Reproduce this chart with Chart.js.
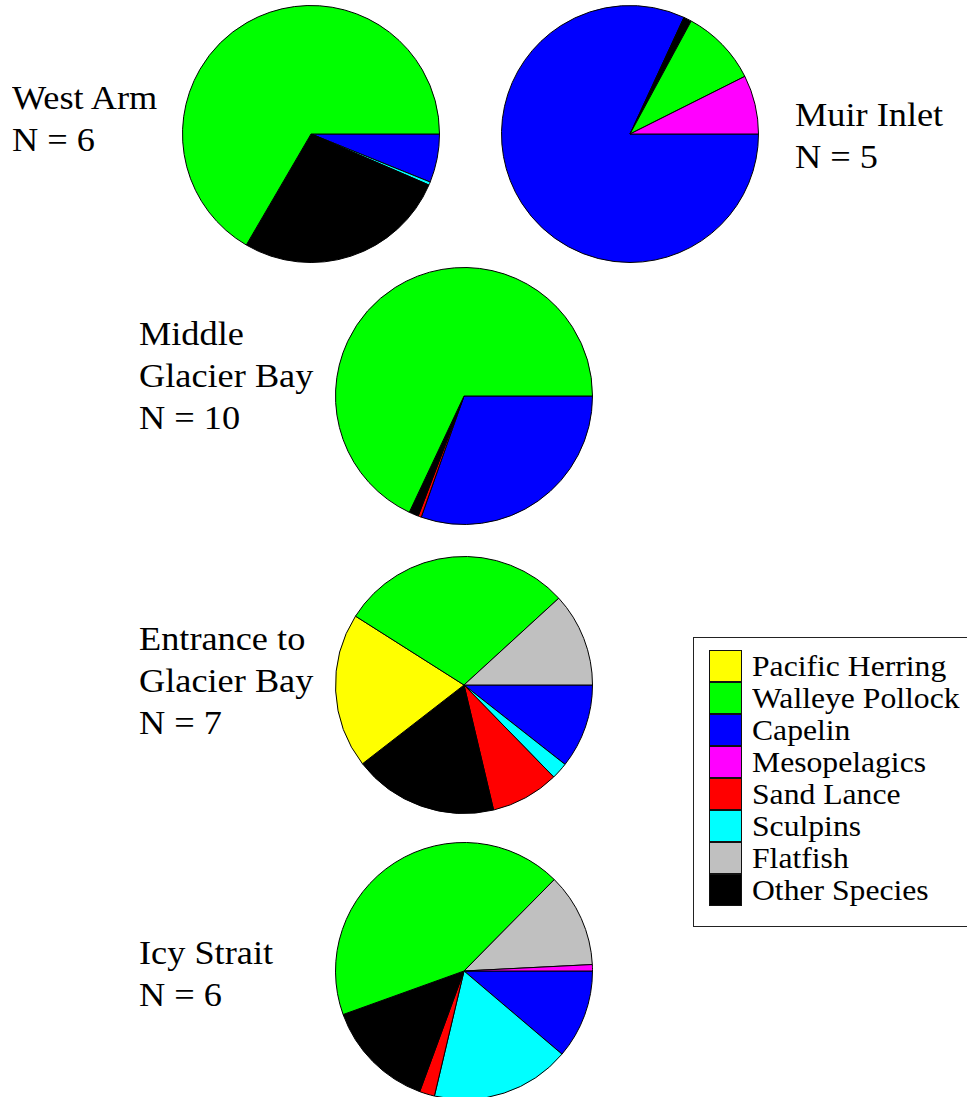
<!DOCTYPE html>
<html lang="en">

<head>
    <meta charset="UTF-8">
    <title>Diet composition by area</title>
    <script src="https://cdn.jsdelivr.net/npm/chart.js"></script>
    <style>
        body {
            margin: 0;
            width: 967px;
            height: 1097px;
            overflow: hidden;
            background: #fff;
            position: relative;
            font-family: "Liberation Serif", "Times New Roman", serif;
            color: #000;
        }

        .pie {
            position: absolute;
        }

        .site {
            position: absolute;
            font-size: 33px;
            line-height: 42px;
            white-space: nowrap;
            transform: scaleX(1.1);
            transform-origin: left top;
        }

        #legend {
            position: absolute;
            left: 693px;
            top: 637px;
            width: 280px;
            height: 290px;
            border: 1px solid #222;
            box-sizing: border-box;
            padding: 12px 0 0 15px;
        }

        .item {
            height: 32px;
            display: flex;
            align-items: center;
            font-size: 30px;
        }

        .item span {
            display: inline-block;
            transform: scaleX(1.055);
            transform-origin: left center;
        }

        .swatch {
            width: 31px;
            height: 30px;
            border: 1px solid #111;
            margin-right: 10px;
        }
    </style>
</head>

<body>

    <div id="legend"></div>

    <script type='text/javascript'>
        // species, in legend order
        var species = ["Pacific Herring", "Walleye Pollock", "Capelin", "Mesopelagics",
            "Sand Lance", "Sculpins", "Flatfish", "Other Species"];
        var colors = ["#ffff00", "#00ff00", "#0000ff", "#ff00ff",
            "#ff0000", "#00ffff", "#c0c0c0", "#000000"];

        // percent of diet per area (same order as species)
        var westArm = [0, 66.6, 6.1, 0, 0, 0.4, 0, 26.9];
        var muirInlet = [0, 9.7, 81.9, 7.4, 0, 0, 0, 1.0];
        var middleBay = [0, 68.0, 30.4, 0, 0.4, 0, 0, 1.2];
        var entranceBay = [19.5, 29.2, 10.6, 0, 8.6, 2.1, 11.8, 18.2];
        var icyStrait = [0, 42.9, 11.2, 0.8, 1.9, 17.5, 11.8, 13.9];

        // slices are laid clockwise from 3 o'clock in this order
        var sliceOrder = [2, 5, 4, 7, 0, 1, 6, 3];

        var sites = [
            { name: ["West Arm", "N = 6"], data: westArm, cx: 311, cy: 134, lx: 12, ly: 77 },
            { name: ["Muir Inlet", "N = 5"], data: muirInlet, cx: 630, cy: 134, lx: 795, ly: 94 },
            { name: ["Middle", "Glacier Bay", "N = 10"], data: middleBay, cx: 464, cy: 396, lx: 139, ly: 313 },
            { name: ["Entrance to", "Glacier Bay", "N = 7"], data: entranceBay, cx: 464, cy: 685, lx: 139, ly: 618 },
            { name: ["Icy Strait", "N = 6"], data: icyStrait, cx: 464, cy: 971, lx: 139, ly: 932 }
        ];

        var size = 258;

        sites.forEach(function (s) {
            var canvas = document.createElement("canvas");
            canvas.className = "pie";
            canvas.width = size;
            canvas.height = size;
            canvas.style.left = (s.cx - size / 2) + "px";
            canvas.style.top = (s.cy - size / 2) + "px";
            document.body.appendChild(canvas);

            var label = document.createElement("div");
            label.className = "site";
            label.style.left = s.lx + "px";
            label.style.top = s.ly + "px";
            label.innerHTML = s.name.join("<br>");
            document.body.appendChild(label);

            new Chart(canvas.getContext("2d"), {
                type: "pie",
                data: {
                    labels: sliceOrder.map(function (i) { return species[i]; }),
                    datasets: [{
                        data: sliceOrder.map(function (i) { return s.data[i]; }),
                        backgroundColor: sliceOrder.map(function (i) { return colors[i]; }),
                        borderColor: "#000",
                        borderWidth: 1
                    }]
                },
                options: {
                    responsive: false,
                    animation: false,
                    rotation: 90,
                    layout: { padding: 0 },
                    plugins: {
                        legend: { display: false },
                        tooltip: { enabled: false }
                    }
                }
            });
        });

        // legend box
        var legend = document.getElementById("legend");
        for (var i = 0; i < species.length; i++) {
            var item = document.createElement("div");
            item.className = "item";
            var sw = document.createElement("div");
            sw.className = "swatch";
            sw.style.background = colors[i];
            var txt = document.createElement("span");
            txt.textContent = species[i];
            item.appendChild(sw);
            item.appendChild(txt);
            legend.appendChild(item);
        }
    </script>

</body>

</html>
